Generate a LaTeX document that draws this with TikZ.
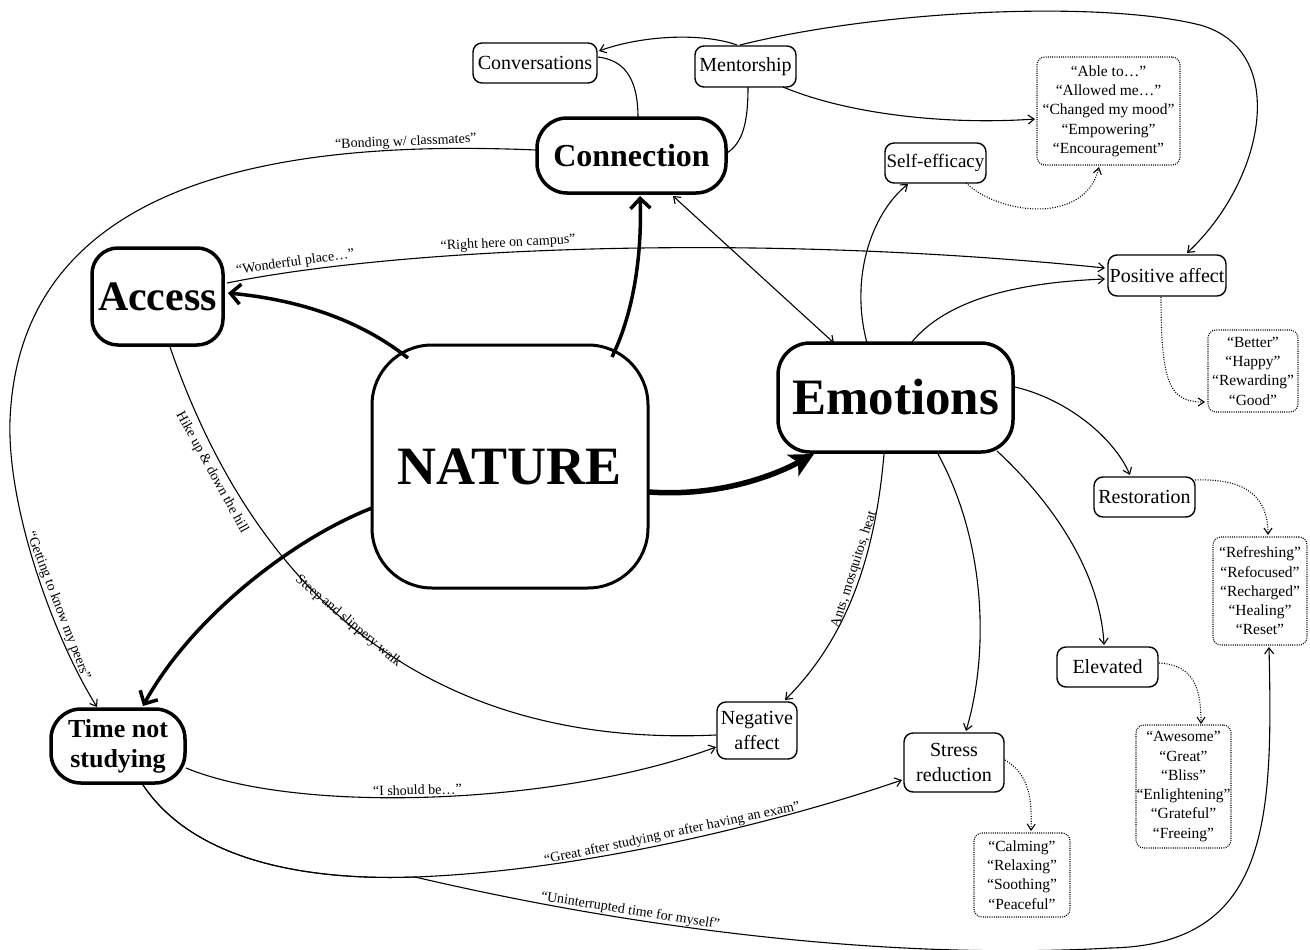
\documentclass[tikz,border=0pt]{standalone}
\usepackage{fontspec}
\setmainfont{Liberation Serif}
\usetikzlibrary{arrows.meta}
\begin{document}
\begin{tikzpicture}[x=1pt,y=-1pt,
  smallbox/.style={draw, line width=1.4pt, rounded corners=9pt, align=center, inner sep=0pt, fill=white, font=\fontsize{20}{25}\selectfont},
  bigbox/.style={draw, line width=3.5pt, align=center, inner sep=0pt, fill=white, font=\bfseries},
  saybox/.style={draw, line width=1.1pt, dash pattern=on 1pt off 1.2pt, rounded corners=8pt, align=center, inner sep=0pt, font=\fontsize{15.5}{19.3}\selectfont},
  link/.style={line width=1.1pt, -{Straight Barb[length=6pt,width=9pt]}},
  duallink/.style={line width=1.1pt, {Straight Barb[length=6pt,width=9pt]}-{Straight Barb[length=6pt,width=9pt]}},
  plainlink/.style={line width=1.1pt},
  biglink/.style={line width=3.5pt, -{Straight Barb[length=10pt,width=20pt]}},
  mainlink/.style={line width=5.5pt, -{Stealth[length=24pt,width=24pt,inset=6pt]}},
  dotlink/.style={line width=1.1pt, dash pattern=on 1pt off 1.5pt, -{Straight Barb[length=6pt,width=8pt]}},
  lab/.style={font=\fontsize{14}{16}\selectfont, sloped, inner sep=2pt}
]
\useasboundingbox (0,0) rectangle (1310,950);

% ---------- nodes ----------
\node[smallbox, minimum width=124pt, minimum height=40pt] (conv) at (535,63) {Conversations};
\node[smallbox, minimum width=101pt, minimum height=41pt] (ment) at (745.5,66.5) {Mentorship};
\node[bigbox, rounded corners=30pt, minimum width=189pt, minimum height=75pt, font=\bfseries\fontsize{32}{36}\selectfont] (conn) at (631.5,155.5) {Connection};
\node[smallbox, minimum width=101pt, minimum height=40pt, font=\fontsize{19}{24}\selectfont] (self) at (935.5,163) {Self-efficacy};
\node[saybox, minimum width=143pt, minimum height=108pt] (q1) at (1108.5,111) {“Able to…”\\“Allowed me…”\\“Changed my mood”\\“Empowering”\\“Encouragement”};
\node[bigbox, rounded corners=26pt, minimum width=131pt, minimum height=97pt, font=\bfseries\fontsize{42}{46}\selectfont] (access) at (157.5,296.5) {Access};
\node[smallbox, minimum width=118pt, minimum height=41pt] (pos) at (1167,275.5) {Positive affect};
\node[saybox, minimum width=90pt, minimum height=82pt] (qpos) at (1253,371) {“Better”\\“Happy”\\“Rewarding”\\“Good”};
\node[bigbox, line width=3pt, rounded corners=60pt, minimum width=276pt, minimum height=243pt, font=\bfseries\fontsize{54}{60}\selectfont] (nature) at (510,466.5) {NATURE};
\node[bigbox, rounded corners=32pt, minimum width=235pt, minimum height=109pt, font=\bfseries\fontsize{51}{56}\selectfont] (emo) at (895.5,397.5) {Emotions};
\node[smallbox, minimum width=101pt, minimum height=40pt] (rest) at (1144.5,497) {Restoration};
\node[saybox, minimum width=94pt, minimum height=108pt] (qrest) at (1260,591) {“Refreshing”\\“Refocused”\\“Recharged”\\“Healing”\\“Reset”};
\node[smallbox, minimum width=101pt, minimum height=40pt] (elev) at (1107.5,667) {Elevated};
\node[saybox, minimum width=95pt, minimum height=123pt] (qelev) at (1183.5,786.5) {“Awesome”\\“Great”\\“Bliss”\\“Enlightening”\\“Grateful”\\“Freeing”};
\node[smallbox, minimum width=80pt, minimum height=57pt] (neg) at (757,730.5) {Negative\\affect};
\node[smallbox, minimum width=100pt, minimum height=59pt] (stress) at (954,762.5) {Stress\\reduction};
\node[saybox, minimum width=96pt, minimum height=84pt] (qstress) at (1022,875) {“Calming”\\“Relaxing”\\“Soothing”\\“Peaceful”};
\node[bigbox, rounded corners=30pt, minimum width=134pt, minimum height=74pt, font=\bfseries\fontsize{26}{30}\selectfont] (time) at (118,746) {Time not\\studying};

% ---------- connectors ----------
% from NATURE
\draw[biglink] ([shift={(-102,-108.5)}]nature.center) .. controls (360,320) and (300,300) .. ([shift={(70.5,-3.5)}]access.center);
\draw[biglink] ([shift={(102,-109.5)}]nature.center) .. controls (635,310) and (642,250) .. ([shift={(8.5,40.5)}]conn.center);
\draw[mainlink] ([shift={(139,25.5)}]nature.center) .. controls (720,497) and (775,475) .. ([shift={(-81.5,56.5)}]emo.center);
\draw[biglink] ([shift={(-138,41.5)}]nature.center) .. controls (290,540) and (190,620) .. ([shift={(25,-40)}]time.center);

% Connection cluster
\draw[duallink] ([shift={(41.5,40.5)}]conn.center) -- ([shift={(-61.5,-54.5)}]emo.center);
\draw[link] ([shift={(-8.5,-21.5)}]ment.center) .. controls (700,32) and (640,36) .. ([shift={(64,-12)}]conv.center);
\draw[link] ([shift={(-5.5,-21.5)}]ment.center) .. controls (880,10) and (1100,0) .. (1200,25) .. controls (1290,50) and (1265,180) .. ([shift={(20,-22.5)}]pos.center);
\draw[plainlink] ([shift={(6.5,-37.5)}]conn.center) .. controls (638,75) and (622,60) .. ([shift={(63,-6)}]conv.center);
\draw[plainlink] ([shift={(2.5,20.5)}]ment.center) .. controls (748,125) and (742,143) .. ([shift={(95.5,-2.5)}]conn.center);
\draw[link] ([shift={(37.5,20.5)}]ment.center) .. controls (850,115) and (950,125) .. ([shift={(-73.5,8)}]q1.center);
\draw[dotlink] ([shift={(30.5,20)}]self.center) .. controls (1000,215) and (1085,225) .. ([shift={(-9.5,56)}]q1.center);

% Emotions cluster
\draw[link] ([shift={(-28.5,-54.5)}]emo.center) .. controls (850,280) and (870,215) .. ([shift={(-27.5,21)}]self.center);
\draw[link] ([shift={(15.5,-54.5)}]emo.center) .. controls (950,295) and (1030,282) .. ([shift={(-62,3.5)}]pos.center);
\draw[link] ([shift={(69.5,-13.5)}]access.center) .. controls (400,248) and (750,232) .. ([shift={(-62,-7.5)}]pos.center)
  node[lab, pos=0.12, above] {“Wonderful place…”}
  node[lab, pos=0.4, above] {“Right here on campus”};
\draw[dotlink] ([shift={(-6,21.5)}]pos.center) .. controls (1161,385) and (1170,402) .. ([shift={(-48,31)}]qpos.center);
\draw[link] ([shift={(119.5,-10.5)}]emo.center) .. controls (1070,400) and (1115,440) .. ([shift={(-14.5,-22)}]rest.center);
\draw[dotlink] ([shift={(50.5,-17)}]rest.center) .. controls (1250,478) and (1268,500) .. ([shift={(8,-56)}]qrest.center);
\draw[link] ([shift={(101.5,53.5)}]emo.center) .. controls (1050,500) and (1100,570) .. ([shift={(-3.5,-22)}]elev.center);
\draw[dotlink] ([shift={(51.5,-4)}]elev.center) .. controls (1195,665) and (1201,690) .. ([shift={(17.5,-62.5)}]qelev.center);
\draw[link] ([shift={(42.5,56.5)}]emo.center) .. controls (985,540) and (990,650) .. ([shift={(12,-31.5)}]stress.center);
\draw[dotlink] ([shift={(51,-2.5)}]stress.center) .. controls (1030,775) and (1032,800) .. ([shift={(9,-44)}]qstress.center);
\draw[link] ([shift={(-11.5,56.5)}]emo.center) .. controls (875,560) and (845,640) .. ([shift={(28,-30.5)}]neg.center)
  node[lab, pos=0.41, above, inner sep=1pt] {Ants, mosquitos, heat};

% Access to Negative affect
\draw[plainlink] ([shift={(12.5,50.5)}]access.center) .. controls (240,550) and (390,750) .. ([shift={(-41,4.5)}]neg.center)
  node[lab, pos=0.2, below, inner sep=5pt] {Hike up \& down the hill}
  node[lab, pos=0.5, yshift=2pt] {Steep and slippery walk};

% Time not studying
\draw[link] ([shift={(68,22)}]time.center) .. controls (300,815) and (560,805) .. ([shift={(-41,16.5)}]neg.center)
  node[lab, pos=0.47, above] {“I should be…”};
\draw[link] ([shift={(-95.5,-5.5)}]conn.center) .. controls (300,140) and (20,170) .. (10,420)
  node[lab, pos=0.18, above, inner sep=0.5pt] {“Bonding w/ classmates”}
  .. controls (7,510) and (55,640) .. ([shift={(-21,-39)}]time.center)
  node[lab, pos=0.62, above] {“Getting to know my peers”};
\draw[link] ([shift={(25,39)}]time.center) .. controls (200,870) and (330,880) .. (415,877)
  .. controls (600,870) and (800,815) .. ([shift={(-52,17.5)}]stress.center)
  node[lab, pos=0.47, above] {“Great after studying or after having an exam”};
\draw[link] ([shift={(25,39)}]time.center) .. controls (200,870) and (330,880) .. (415,877)
  .. controls (650,932) and (900,960) .. (1110,948)
  node[lab, pos=0.3, above, inner sep=1pt] {“Uninterrupted time for myself”}
  .. controls (1270,945) and (1273,820) .. ([shift={(9,56)}]qrest.center);
\end{tikzpicture}
\end{document}
